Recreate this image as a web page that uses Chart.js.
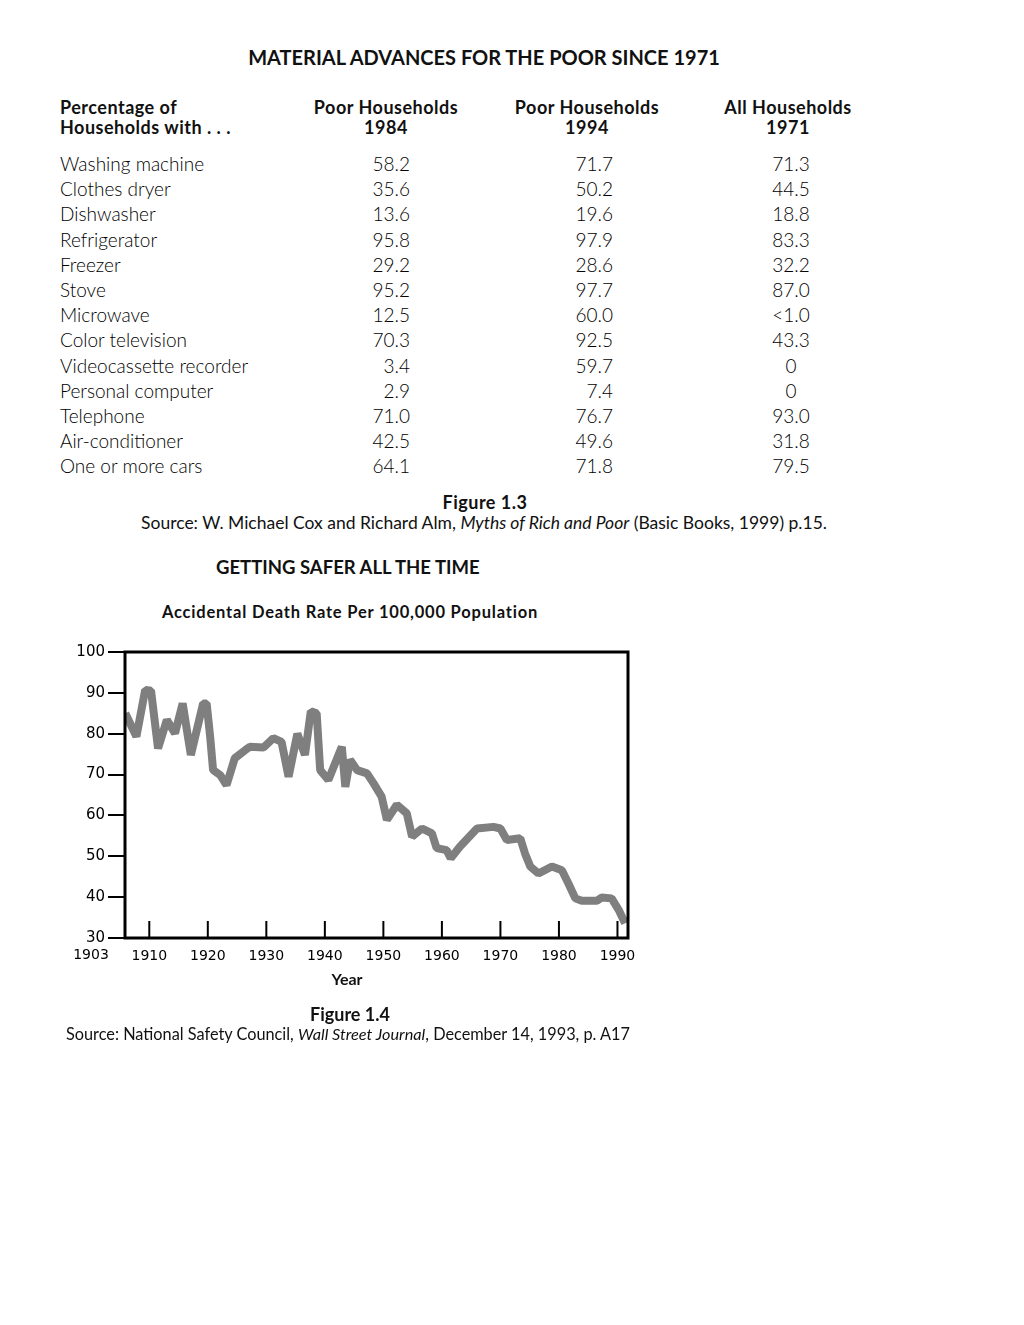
<!DOCTYPE html>
<html>
<head>
<meta charset="utf-8">
<script src="https://cdn.jsdelivr.net/npm/chart.js@4.4.1/dist/chart.umd.min.js"></script>
<style>
	body { margin: 0; background: #fff; font-family: "Lato", "Noto Sans", sans-serif; color: #111; }
	#page { position: relative; width: 1024px; height: 1325px; overflow: hidden; }
	.t { position: absolute; white-space: nowrap; }
	.b { font-weight: bold; }
	.c { transform: translateX(-50%); text-align: center; }
	.r { transform: translateX(-100%); text-align: right; }
	.row { font-size: 19px; font-weight: 300; color: #000; }
	.hd { font-size: 18px; letter-spacing: 0.5px; font-weight: bold; line-height: 20px; }
	#chartBox { position: absolute; left: 40px; top: 630px; width: 620px; height: 350px; }
</style>
</head>
<body>
<div id="page">
	<div class="t b c" style="left:484px; top:45px; font-size:20px;">MATERIAL ADVANCES FOR THE POOR SINCE 1971</div>

	<div class="t hd" style="left:60px; top:97px;">Percentage of<br>Households with . . .</div>
	<div class="t hd c" style="left:386px; top:97px;">Poor Households<br>1984</div>
	<div class="t hd c" style="left:587px; top:97px;">Poor Households<br>1994</div>
	<div class="t hd c" style="left:788px; top:97px;">All Households<br>1971</div>

	<div id="rows"></div>

	<div class="t b c" style="left:485px; top:491px; font-size:18px; letter-spacing:0.5px;">Figure 1.3</div>
	<div class="t c" style="left:484px; top:512px; font-size:17.5px;">Source: W. Michael Cox and Richard Alm, <i>Myths of Rich and Poor</i> (Basic Books, 1999) p.15.</div>

	<div class="t b" style="left:216px; top:556px; font-size:18.5px;">GETTING SAFER ALL THE TIME</div>
	<div class="t b c" style="left:350px; top:602px; font-size:16.5px; letter-spacing:0.8px;">Accidental Death Rate Per 100,000 Population</div>

	<div id="chartBox"><canvas id="deathChart"></canvas></div>
	<div class="t b c" style="left:347px; top:969px; font-size:16px;">Year</div>

	<div class="t b c" style="left:350px; top:1003px; font-size:18px;">Figure 1.4</div>
	<div class="t c" style="left:348px; top:1024px; font-size:16.3px;">Source: National Safety Council, <i>Wall Street Journal</i>, December 14, 1993, p. A17</div>
</div>

<script>
// Figure 1.3 table
const items = ["Washing machine", "Clothes dryer", "Dishwasher", "Refrigerator", "Freezer", "Stove", "Microwave",
	"Color television", "Videocassette recorder", "Personal computer", "Telephone", "Air-conditioner", "One or more cars"];
const poor1984 = ["58.2", "35.6", "13.6", "95.8", "29.2", "95.2", "12.5", "70.3", "3.4", "2.9", "71.0", "42.5", "64.1"];
const poor1994 = ["71.7", "50.2", "19.6", "97.9", "28.6", "97.7", "60.0", "92.5", "59.7", "7.4", "76.7", "49.6", "71.8"];
const all1971 = ["71.3", "44.5", "18.8", "83.3", "32.2", "87.0", "<1.0", "43.3", "0", "0", "93.0", "31.8", "79.5"];

// Figure 1.4 line (years)
const years = [1905.9, 1907.8, 1909.3, 1910.3, 1911.5, 1913.0, 1914.4, 1915.7, 1917.1, 1919.2, 1919.8, 1920.4,
	1920.9, 1922.1, 1923.2, 1924.6, 1926.4, 1927.2, 1929.5, 1931.2, 1932.6, 1933.8, 1935.3, 1936.6, 1937.6,
	1938.6, 1939.2, 1940.6, 1942.9, 1943.5, 1944.3, 1945.5, 1947.2, 1948.3, 1949.7, 1950.6, 1952.3, 1954.0,
	1954.9, 1956.6, 1958.3, 1959.1, 1960.8, 1961.5, 1963.1, 1966.0, 1968.8, 1970.0, 1971.1, 1973.4, 1974.2,
	1975.1, 1976.5, 1978.8, 1980.5, 1981.6, 1982.8, 1983.9, 1986.5, 1987.3, 1989.0, 1990.2, 1991.3];
const deathRate = [85.0, 79.3, 90.7, 90.5, 76.4, 83.4, 80.1, 87.4, 74.8, 87.4, 87.4, 79.3,
	71.1, 69.9, 67.4, 74.0, 76.0, 76.8, 76.6, 78.9, 78.0, 69.5, 80.0, 74.8, 85.5,
	85.0, 71.1, 68.7, 76.8, 67.0, 73.6, 71.1, 70.3, 67.9, 64.6, 58.9, 62.6, 60.5,
	54.8, 56.8, 55.6, 52.0, 51.5, 49.5, 52.4, 56.8, 57.2, 56.8, 54.0, 54.4, 50.7,
	47.5, 45.8, 47.5, 46.6, 43.4, 39.7, 39.1, 39.1, 39.9, 39.7, 36.9, 33.6];
const yearTicks = [1910, 1920, 1930, 1940, 1950, 1960, 1970, 1980, 1990];
const firstYearLabel = "1903";

// Build table rows
function buildRows() {
	const rows = document.getElementById("rows");
	let html = "";
	items.forEach((item, i) => {
		const top = 152 + i * 25.2;
		html += `<div class="t row" style="left:60px; top:${top}px;">${item}</div>`;
		html += `<div class="t row r" style="left:410px; top:${top}px;">${poor1984[i]}</div>`;
		html += `<div class="t row r" style="left:613px; top:${top}px;">${poor1994[i]}</div>`;
		html += `<div class="t row c" style="left:791px; top:${top}px;">${all1971[i].replace("<", "&lt;")}</div>`;
	});
	rows.innerHTML = html;
}

// Box frame, inner x ticks and the first year label
const framePlugin = {
	id: "frame",
	afterDraw(chart) {
		const { ctx, chartArea } = chart;
		const x = chart.scales.x;
		ctx.save();
		ctx.strokeStyle = "#000";
		ctx.lineWidth = 2;
		yearTicks.forEach((yr) => {
			const px = x.getPixelForValue(yr);
			ctx.beginPath();
			ctx.moveTo(px, chartArea.bottom);
			ctx.lineTo(px, chartArea.bottom - 17);
			ctx.stroke();
		});
		ctx.lineWidth = 3;
		ctx.strokeRect(chartArea.left, chartArea.top, chartArea.right - chartArea.left, chartArea.bottom - chartArea.top);
		ctx.fillStyle = "#000";
		ctx.font = "14px 'DejaVu Sans'";
		ctx.textAlign = "center";
		ctx.textBaseline = "top";
		ctx.fillText(firstYearLabel, chartArea.left - 34, chartArea.bottom + 10);
		ctx.restore();
	},
};

function createLineChart(ctx) {
	return new Chart(ctx, {
		type: "line",
		data: {
			datasets: [
				{
					data: years.map((yr, i) => ({ x: yr, y: deathRate[i] })),
					borderColor: "#7f7f7f",
					borderWidth: 8,
					pointRadius: 0,
					tension: 0,
					borderJoinStyle: "bevel",
				},
			],
		},
		options: {
			responsive: true,
			maintainAspectRatio: false,
			animation: false,
			layout: { padding: { top: 22, right: 32, bottom: 2, left: 0 } },
			plugins: { legend: { display: false }, tooltip: { enabled: false } },
			scales: {
				x: {
					type: "linear",
					min: 1905.85,
					max: 1991.8,
					afterBuildTicks: (scale) => {
						scale.ticks = yearTicks.map((v) => ({ value: v }));
					},
					afterFit: (scale) => {
						scale.height = 40;
					},
					grid: { display: false, drawTicks: false },
					border: { display: false },
					ticks: {
						padding: 10,
						color: "#000",
						font: { family: "DejaVu Sans", size: 14 },
						maxRotation: 0,
						callback: (v) => String(v),
					},
				},
				y: {
					min: 30,
					max: 100,
					afterFit: (scale) => {
						scale.width = 85;
					},
					grid: { drawOnChartArea: false, drawTicks: true, tickLength: 17, color: "#000", lineWidth: 2 },
					border: { display: false },
					ticks: {
						stepSize: 10,
						padding: 3,
						color: "#000",
						font: { family: "DejaVu Sans", size: 15 },
					},
				},
			},
		},
		plugins: [framePlugin],
	});
}

buildRows();
createLineChart(document.getElementById("deathChart"));
</script>
</body>
</html>
